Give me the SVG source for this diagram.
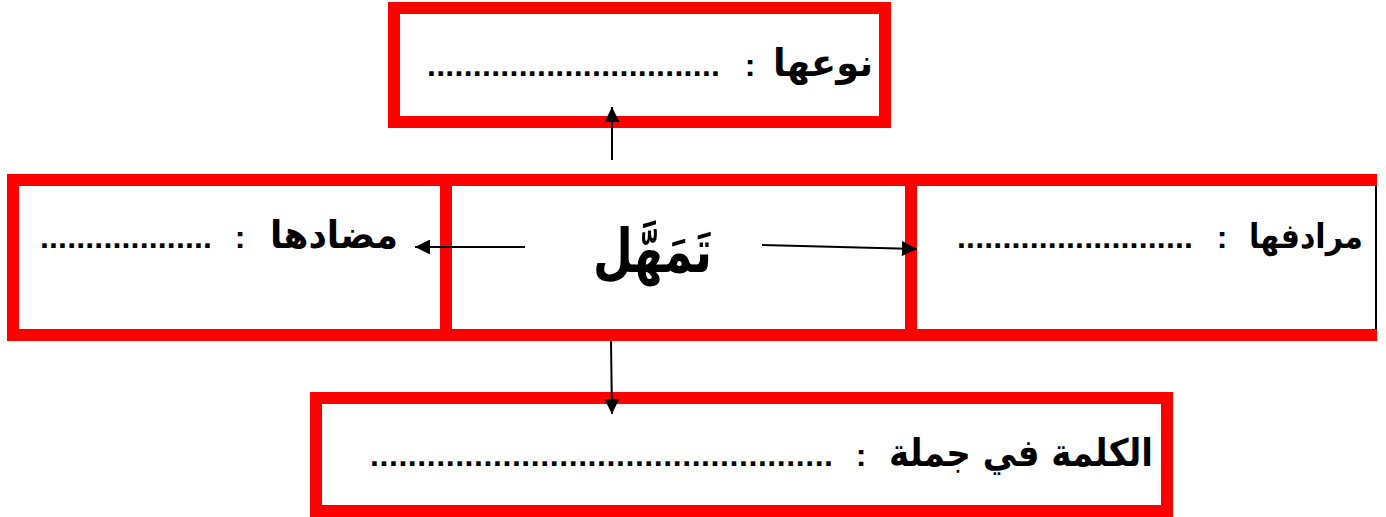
<svg xmlns="http://www.w3.org/2000/svg" width="1386" height="517" viewBox="0 0 1386 517">
<style>
.box{fill:#fff;stroke:#ff0000;stroke-width:12}
.t{font-family:"DejaVu Sans","Liberation Sans",sans-serif;font-weight:bold;font-size:38px;fill:#000}
.k{font-family:"Liberation Sans",sans-serif;font-weight:bold;font-size:32px;fill:#000}
.d{font-family:"Liberation Sans",sans-serif;font-weight:bold;font-size:32px;fill:#000}
.big{font-family:"DejaVu Sans","Liberation Sans",sans-serif;font-weight:bold;font-size:60px;fill:#000}
.c{stroke:#000;stroke-width:2;fill:none}
</style>
<defs>
<marker id="ah" viewBox="0 0 10 10" refX="10" refY="5" markerWidth="8" markerHeight="7.5" markerUnits="strokeWidth" orient="auto">
<path d="M0,0 L10,5 L0,10 z" fill="#000"/>
</marker>
</defs>
<rect width="1386" height="517" fill="#fff"/>
<g id="node-type">
<rect class="box" x="394" y="8" width="491" height="114"/>
<text class="t" x="823" y="76" text-anchor="middle" textLength="100" lengthAdjust="spacingAndGlyphs">نوعها</text>
<text class="k" x="750" y="76" text-anchor="middle">:</text>
<text class="d" x="573.5" y="76" text-anchor="middle" textLength="293" lengthAdjust="spacing">................................</text>
</g>
<g id="node-antonym">
<rect class="box" x="13" y="180" width="433" height="155"/>
<text class="t" x="334" y="248" text-anchor="middle" textLength="128" lengthAdjust="spacingAndGlyphs">مضادها</text>
<text class="k" x="240" y="248" text-anchor="middle">:</text>
<text class="d" x="126" y="248" text-anchor="middle" textLength="172" lengthAdjust="spacing">...................</text>
</g>
<g id="node-word">
<rect class="box" x="446" y="180" width="465" height="155"/>
<text class="big" x="652.5" y="272" text-anchor="middle" textLength="119" lengthAdjust="spacingAndGlyphs">تَمَهَّل</text>
</g>
<g id="node-synonym">
<rect x="911" y="186" width="466" height="143" fill="#fff"/>
<path d="M1377,180 H911 V335 H1377" fill="none" stroke="#ff0000" stroke-width="12"/>
<line x1="1376" y1="186" x2="1376" y2="329" stroke="#000" stroke-width="2"/>
<text class="t" x="1306" y="248" text-anchor="middle" textLength="114" lengthAdjust="spacingAndGlyphs" style="font-size:34px">مرادفها</text>
<text class="k" x="1222" y="248" text-anchor="middle">:</text>
<text class="d" x="1075" y="248" text-anchor="middle" textLength="236" lengthAdjust="spacing">..........................</text>
</g>
<g id="node-sentence">
<rect class="box" x="316" y="398" width="851" height="113"/>
<text class="t" x="1021" y="466" text-anchor="middle" textLength="264" lengthAdjust="spacingAndGlyphs">الكلمة في جملة</text>
<text class="k" x="861" y="466" text-anchor="middle">:</text>
<text class="d" x="601.5" y="466" text-anchor="middle" textLength="463" lengthAdjust="spacing">.................................................</text>
</g>
<g id="connectors">
<line class="c" x1="612" y1="160" x2="612" y2="107" marker-end="url(#ah)"/>
<line class="c" x1="525" y1="247" x2="415" y2="247" marker-end="url(#ah)"/>
<line class="c" x1="762" y1="245" x2="917" y2="249" marker-end="url(#ah)"/>
<line class="c" x1="611" y1="341" x2="612" y2="414" marker-end="url(#ah)"/>
</g>
</svg>
